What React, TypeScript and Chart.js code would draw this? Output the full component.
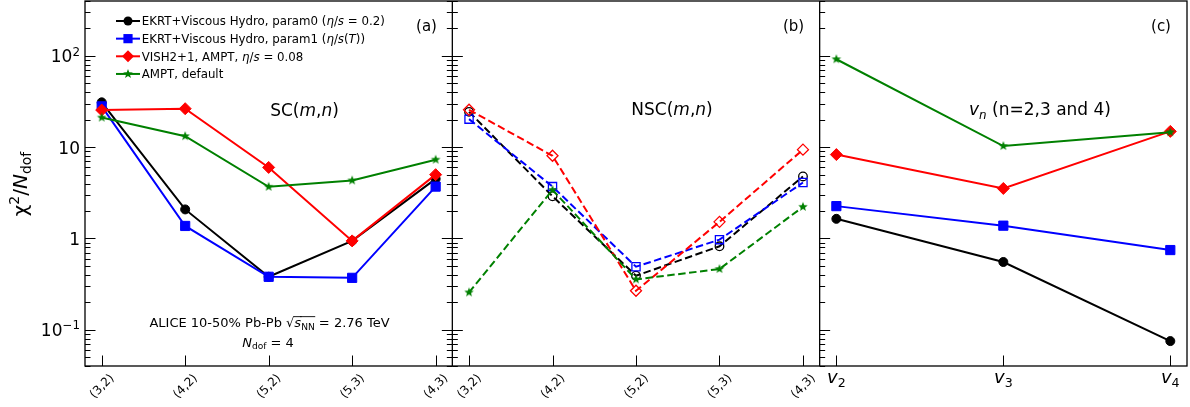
import React, { useEffect, useRef } from 'react';
import { Chart, registerables } from 'chart.js';
Chart.register(...registerables);

const FONT = '"DejaVu Sans", "Liberation Sans", sans-serif';

// ---- data ----
const scLabels = ['(3,2)', '(4,2)', '(5,2)', '(5,3)', '(4,3)'];
const vnSubs = ['2', '3', '4'];
const yTickValues = [0.1, 1, 10, 100];

const scParam0 = [31, 2.08, 0.38, 0.94, 4.5];
const scParam1 = [28, 1.37, 0.38, 0.37, 3.7];
const scVish = [25.5, 26.4, 6.0, 0.94, 5.0];
const scAmpt = [21.1, 13.2, 3.68, 4.32, 7.3];

const nscParam0 = [24.4, 2.9, 0.39, 0.82, 4.78];
const nscParam1 = [20.3, 3.7, 0.49, 0.97, 4.1];
const nscVish = [25.7, 8.05, 0.267, 1.52, 9.4];
const nscAmpt = [0.256, 3.4, 0.356, 0.462, 2.22];

const vnParam0 = [1.64, 0.552, 0.075];
const vnParam1 = [2.26, 1.38, 0.746];
const vnVish = [8.3, 3.53, 14.9];
const vnAmpt = [92, 10.3, 14.6];

const BLACK = '#000000';
const BLUE = '#0000ff';
const RED = '#ff0000';
const GREEN = '#008000';

type Run = { t: string; it?: boolean; sub?: boolean; sup?: boolean; over?: boolean };

function drawRuns(ctx: CanvasRenderingContext2D, runs: Run[], x: number, y: number, size: number, align: 'left' | 'center' | 'right') {
  const fontOf = (r: Run) => `${r.it ? 'italic ' : ''}${r.sub || r.sup ? size * 0.7 : size}px ${FONT}`;
  let total = 0;
  const widths = runs.map((r) => {
    ctx.font = fontOf(r);
    const w = ctx.measureText(r.t).width;
    total += w;
    return w;
  });
  let cx = align === 'left' ? x : align === 'center' ? x - total / 2 : x - total;
  ctx.textAlign = 'left';
  ctx.textBaseline = 'alphabetic';
  runs.forEach((r, i) => {
    ctx.font = fontOf(r);
    const dy = r.sub ? size * 0.2 : r.sup ? -size * 0.4 : 0;
    ctx.fillText(r.t, cx, y + dy);
    if (r.over) {
      ctx.save();
      ctx.lineWidth = 0.9;
      ctx.beginPath();
      ctx.moveTo(cx - 1, y - size * 0.82);
      ctx.lineTo(cx + widths[i] + 0.5, y - size * 0.82);
      ctx.stroke();
      ctx.restore();
    }
    cx += widths[i];
  });
}

function makeStar(color: string, R: number) {
  const c = document.createElement('canvas');
  const s = Math.ceil(R * 2 + 2);
  c.width = s;
  c.height = s;
  const g = c.getContext('2d')!;
  g.fillStyle = color;
  g.beginPath();
  for (let k = 0; k < 10; k++) {
    const r = k % 2 === 0 ? R : R * 0.42;
    const a = -Math.PI / 2 + (k * Math.PI) / 5;
    g.lineTo(s / 2 + r * Math.cos(a), s / 2 + r * Math.sin(a));
  }
  g.closePath();
  g.fill();
  return c;
}

export default function App() {
  const ref = useRef<HTMLCanvasElement>(null);
  useEffect(() => {
    const canvas = ref.current!;
    const star = makeStar(GREEN, 5);
    const toXY = (arr: number[]) => arr.map((v, i) => ({ x: i, y: v }));

    const mk = (data: number[], xAxisID: string, color: string, style: any, radius: number, dashed: boolean, filled: boolean, order: number) => ({
      data: toXY(data),
      xAxisID,
      yAxisID: 'y',
      borderColor: color,
      borderWidth: 2,
      borderDash: dashed ? [7.5, 3.5] : [],
      pointStyle: style,
      pointRadius: radius,
      pointBackgroundColor: filled ? color : 'rgba(0,0,0,0)',
      pointBorderColor: color,
      pointBorderWidth: filled ? 1 : 1.3,
      fill: false,
      tension: 0,
      order,
    });

    const datasets = [
      mk(scParam0, 'xa', BLACK, 'circle', 4.5, false, true, 4),
      mk(scParam1, 'xa', BLUE, 'rect', 6.5, false, true, 3),
      mk(scVish, 'xa', RED, 'rectRot', 6, false, true, 2),
      mk(scAmpt, 'xa', GREEN, star, 5, false, true, 1),
      mk(nscParam0, 'xb', BLACK, 'circle', 4.3, true, false, 4),
      mk(nscParam1, 'xb', BLUE, 'rect', 5.8, true, false, 3),
      mk(nscVish, 'xb', RED, 'rectRot', 5.5, true, false, 2),
      mk(nscAmpt, 'xb', GREEN, star, 5, true, true, 1),
      mk(vnParam0, 'xc', BLACK, 'circle', 4.5, false, true, 4),
      mk(vnParam1, 'xc', BLUE, 'rect', 6.5, false, true, 3),
      mk(vnVish, 'xc', RED, 'rectRot', 6, false, true, 2),
      mk(vnAmpt, 'xc', GREEN, star, 5, false, true, 1),
    ];

    const xScale = (min: number, max: number) => ({
      type: 'linear' as const,
      position: 'bottom' as const,
      stack: 'panels',
      stackWeight: 1,
      min,
      max,
      display: false,
      ticks: { display: false },
    });

    const decorations = {
      id: 'decorations',
      afterDraw(chart: any) {
        const { ctx, chartArea: ca, scales } = chart;
        const ys = scales.y;
        const xa = scales.xa;
        const xb = scales.xb;
        const xc = scales.xc;
        ctx.save();
        ctx.fillStyle = '#000';
        ctx.strokeStyle = '#000';

        // y ticks (inward)
        ctx.lineWidth = 1;
        const tickY = (x0: number, dir: number) => {
          for (let d = -2; d <= 2; d++) {
            for (let m = 1; m <= 9; m++) {
              const v = m * Math.pow(10, d);
              if (v < ys.min || v > ys.max) continue;
              const py = Math.round(ys.getPixelForValue(v)) + 0.5;
              const len = m === 1 ? 10.5 : 5.5;
              ctx.beginPath();
              ctx.moveTo(x0, py);
              ctx.lineTo(x0 + dir * len, py);
              ctx.stroke();
            }
          }
        };
        tickY(xa.left, 1);
        tickY(xa.right, -1);
        tickY(xb.left, 1);
        tickY(xc.left, 1);

        // x ticks (inward)
        const tickX = (sc: any, n: number) => {
          for (let i = 0; i < n; i++) {
            const px = Math.round(sc.getPixelForValue(i)) + 0.5;
            ctx.beginPath();
            ctx.moveTo(px, ca.bottom);
            ctx.lineTo(px, ca.bottom - 10.5);
            ctx.stroke();
          }
        };
        tickX(xa, scLabels.length);
        tickX(xb, scLabels.length);
        tickX(xc, vnSubs.length);

        // spines
        ctx.lineWidth = 1.3;
        ctx.strokeRect(ca.left, ca.top, ca.right - ca.left, ca.bottom - ca.top);
        [xa.right, xb.right].forEach((xx: number) => {
          ctx.beginPath();
          ctx.moveTo(xx, ca.top);
          ctx.lineTo(xx, ca.bottom);
          ctx.stroke();
        });

        // y tick labels
        yTickValues.forEach((v) => {
          const py = ys.getPixelForValue(v) + 6.4;
          const e = Math.round(Math.log10(v));
          let runs: Run[];
          if (e === 0) runs = [{ t: '1' }];
          else if (e === 1) runs = [{ t: '10' }];
          else runs = [{ t: '10' }, { t: e < 0 ? '\u2212' + String(-e) : String(e), sup: true }];
          drawRuns(ctx, runs, 80, py, 17, 'right');
        });

        // y title
        ctx.save();
        ctx.translate(27, 184);
        ctx.rotate(-Math.PI / 2);
        drawRuns(ctx, [{ t: '\u03c7' }, { t: '2', sup: true }, { t: '/' }, { t: 'N', it: true }, { t: 'dof', sub: true }], 0, 0, 20, 'center');
        ctx.restore();

        // x tick labels, panels a and b
        [xa, xb].forEach((sc: any) => {
          scLabels.forEach((lab, i) => {
            const px = sc.getPixelForValue(i);
            ctx.save();
            ctx.translate(px, 386);
            ctx.rotate(-Math.PI / 4);
            drawRuns(ctx, [{ t: lab }], 0, 3.8, 12, 'center');
            ctx.restore();
          });
        });
        // x tick labels, panel c
        vnSubs.forEach((s, i) => {
          const px = xc.getPixelForValue(i);
          drawRuns(ctx, [{ t: 'v', it: true }, { t: s, sub: true }], px, 383, 18, 'center');
        });

        // panel letters
        drawRuns(ctx, [{ t: '(a)' }], 426.5, 30.5, 15, 'center');
        drawRuns(ctx, [{ t: '(b)' }], 793.5, 30.5, 15, 'center');
        drawRuns(ctx, [{ t: '(c)' }], 1161, 30.5, 15, 'center');

        // panel titles
        drawRuns(ctx, [{ t: 'SC(' }, { t: 'm', it: true }, { t: ',' }, { t: 'n', it: true }, { t: ')' }], 304.5, 115.8, 17, 'center');
        drawRuns(ctx, [{ t: 'NSC(' }, { t: 'm', it: true }, { t: ',' }, { t: 'n', it: true }, { t: ')' }], 672, 115.3, 17, 'center');
        drawRuns(ctx, [{ t: 'v', it: true }, { t: 'n', it: true, sub: true }, { t: ' (n=2,3 and 4)' }], 1040, 115.3, 17, 'center');

        // ALICE annotation
        drawRuns(ctx, [{ t: 'ALICE 10-50% Pb-Pb ' }, { t: '\u221a' }, { t: 's', it: true, over: true }, { t: 'NN', sub: true, over: true }, { t: ' = 2.76 TeV' }], 269.5, 327.3, 13, 'center');
        drawRuns(ctx, [{ t: 'N', it: true }, { t: 'dof', sub: true }, { t: ' = 4' }], 268, 346.7, 13, 'center');

        // legend
        const legendRows: { runs: Run[]; color: string; style: string }[] = [
          { runs: [{ t: 'EKRT+Viscous Hydro, param0 (' }, { t: '\u03b7', it: true }, { t: '/' }, { t: 's', it: true }, { t: ' = 0.2)' }], color: BLACK, style: 'circle' },
          { runs: [{ t: 'EKRT+Viscous Hydro, param1 (' }, { t: '\u03b7', it: true }, { t: '/' }, { t: 's', it: true }, { t: '(' }, { t: 'T', it: true }, { t: '))' }], color: BLUE, style: 'rect' },
          { runs: [{ t: 'VISH2+1, AMPT, ' }, { t: '\u03b7', it: true }, { t: '/' }, { t: 's', it: true }, { t: ' = 0.08' }], color: RED, style: 'rectRot' },
          { runs: [{ t: 'AMPT, default' }], color: GREEN, style: 'star' },
        ];
        legendRows.forEach((row, i) => {
          const cy = 21 + i * 17.65;
          ctx.strokeStyle = row.color;
          ctx.fillStyle = row.color;
          ctx.lineWidth = 2;
          ctx.beginPath();
          ctx.moveTo(116, cy);
          ctx.lineTo(140, cy);
          ctx.stroke();
          const mx = 128;
          ctx.beginPath();
          if (row.style === 'circle') {
            ctx.arc(mx, cy, 4.5, 0, Math.PI * 2);
            ctx.fill();
          } else if (row.style === 'rect') {
            ctx.fillRect(mx - 4.6, cy - 4.6, 9.2, 9.2);
          } else if (row.style === 'rectRot') {
            ctx.moveTo(mx - 6, cy);
            ctx.lineTo(mx, cy - 6);
            ctx.lineTo(mx + 6, cy);
            ctx.lineTo(mx, cy + 6);
            ctx.closePath();
            ctx.fill();
          } else {
            ctx.drawImage(star, mx - star.width / 2, cy - star.height / 2);
          }
          ctx.fillStyle = '#000';
          drawRuns(ctx, row.runs, 141.7, cy + 4.3, 11.8, 'left');
        });

        ctx.restore();
      },
    };

    const chart = new Chart(canvas, {
      type: 'line',
      data: { datasets: datasets as any },
      options: {
        animation: false,
        responsive: false,
        layout: { autoPadding: false, padding: { left: 85, right: 3, top: 1, bottom: 41 } },
        scales: {
          xa: xScale(-0.2, 4.2),
          xb: xScale(-0.2, 4.2),
          xc: xScale(-0.1, 2.1),
          y: { type: 'logarithmic', min: 0.04, max: 400, display: false, ticks: { display: false } },
        } as any,
        plugins: {
          legend: { display: false },
          tooltip: { enabled: false },
        },
      },
      plugins: [decorations],
    });
    return () => chart.destroy();
  }, []);

  return (
    <div style={{ position: 'absolute', left: 0, top: 0, width: 1190, height: 407, background: '#fff' }}>
      <canvas ref={ref} width={1190} height={407} style={{ display: 'block' }} />
    </div>
  );
}
